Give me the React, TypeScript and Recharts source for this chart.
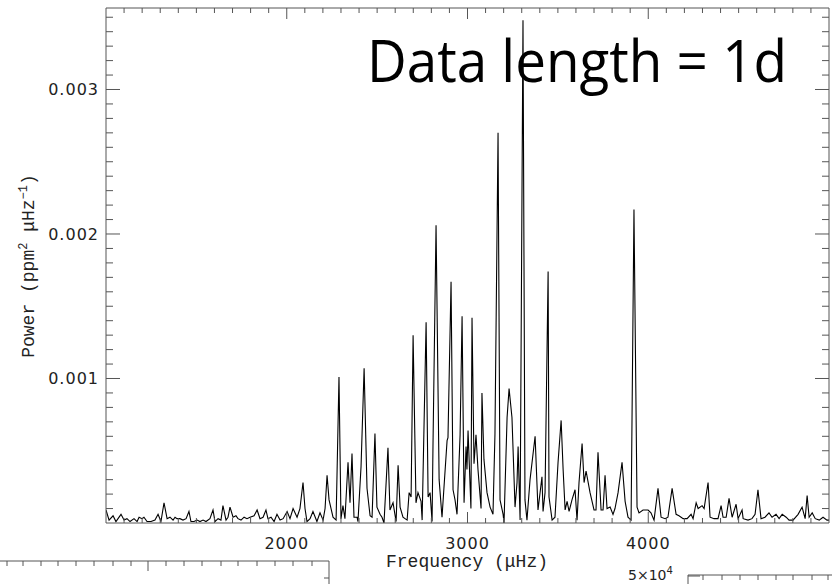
import React from "react";
import { LineChart, Line, XAxis, YAxis } from "recharts";

// frequency (μHz) of each vertex of the power spectrum
const freq = [
  1000, 1017, 1039, 1055, 1083, 1100, 1116, 1133, 1155, 1172, 1183, 1199, 1210, 1227, 1249, 1271, 1288, 1304, 1321, 1338,
  1354, 1371, 1382, 1393, 1409, 1426, 1443, 1459, 1470, 1487, 1504, 1520, 1537, 1553, 1575, 1592, 1603, 1620, 1636, 1647,
  1664, 1675, 1686, 1703, 1719, 1730, 1747, 1764, 1780, 1797, 1819, 1836, 1852, 1869, 1885, 1896, 1913, 1930, 1946, 1963,
  1980, 2002, 2018, 2035, 2057, 2073, 2090, 2101, 2112, 2129, 2145, 2167, 2184, 2201, 2212, 2223, 2234, 2256, 2273, 2289,
  2300, 2311, 2322, 2339, 2350, 2361, 2372, 2389, 2394, 2411, 2428, 2444, 2461, 2472, 2488, 2499, 2516, 2527, 2538, 2560,
  2571, 2588, 2605, 2616, 2627, 2643, 2666, 2677, 2688, 2699, 2715, 2726, 2743, 2749, 2771, 2782, 2793, 2804, 2809, 2826,
  2843, 2859, 2887, 2892, 2909, 2920, 2931, 2942, 2959, 2970, 2981, 2992, 2997, 3003, 3019, 3025, 3036, 3047, 3058, 3075,
  3080, 3091, 3108, 3125, 3141, 3152, 3169, 3180, 3197, 3202, 3219, 3230, 3246, 3263, 3274, 3280, 3291, 3307, 3318, 3329,
  3346, 3374, 3390, 3412, 3418, 3429, 3446, 3451, 3468, 3484, 3501, 3518, 3529, 3540, 3551, 3562, 3578, 3595, 3606, 3617,
  3634, 3645, 3656, 3678, 3700, 3711, 3722, 3739, 3750, 3761, 3772, 3789, 3805, 3816, 3833, 3855, 3872, 3888, 3905, 3921,
  3938, 3949, 3971, 3999, 4015, 4032, 4054, 4071, 4093, 4109, 4132, 4154, 4170, 4193, 4215, 4237, 4248, 4265, 4276, 4298,
  4309, 4331, 4342, 4364, 4386, 4403, 4414, 4431, 4447, 4464, 4486, 4497, 4519, 4525, 4552, 4574, 4591, 4607, 4624, 4646,
  4668, 4685, 4707, 4724, 4741, 4763, 4779, 4801, 4829, 4851, 4868, 4879, 4890, 4907, 4924, 4946, 4967, 4989, 5000,
];

// power in units of 1e-5 ppm² μHz⁻¹
const power = [
  9, 2, 5, 1, 6, 2, 3, 1, 3, 1, 4, 3, 4, 1, 1, 2, 6, 1, 14, 3,
  4, 2, 4, 3, 3, 2, 3, 8, 1, 1, 2, 1, 2, 1, 3, 9, 1, 3, 2, 12,
  2, 4, 11, 4, 5, 3, 2, 4, 3, 4, 5, 9, 3, 4, 9, 3, 4, 1, 6, 2,
  3, 8, 3, 10, 4, 10, 28, 10, 1, 3, 8, 1, 7, 2, 10, 33, 16, 4, 2, 101,
  3, 12, 3, 42, 14, 48, 4, 4, 1, 39, 107, 24, 5, 4, 62, 11, 6, 4, 0, 52,
  9, 14, 1, 40, 11, 4, 2, 21, 18, 130, 14, 21, 15, 2, 139, 18, 21, 1, 53, 206,
  30, 4, 57, 59, 167, 23, 16, 6, 61, 143, 14, 53, 37, 64, 10, 142, 41, 61, 37, 10,
  90, 44, 21, 11, 6, 62, 270, 16, 6, 0, 73, 93, 73, 11, 28, 53, 2, 348, 16, 2,
  30, 60, 9, 32, 8, 21, 174, 18, 2, 4, 42, 71, 37, 9, 15, 8, 16, 23, 2, 28,
  55, 28, 36, 21, 9, 9, 49, 9, 9, 33, 10, 11, 6, 10, 21, 42, 15, 4, 2, 217,
  11, 7, 9, 9, 7, 2, 24, 4, 3, 4, 24, 6, 5, 3, 3, 6, 3, 14, 10, 12,
  10, 28, 4, 3, 3, 12, 4, 4, 17, 4, 13, 3, 9, 3, 2, 3, 6, 23, 3, 4,
  7, 4, 6, 3, 6, 4, 2, 2, 6, 11, 3, 19, 4, 7, 3, 2, 4, 2, 2,
];

const xMajorTicks = [2000, 3000, 4000];
const yMajorTicks = [0.001, 0.002, 0.003];
const xDomain = [1000, 5000];
const yDomain = [0, 0.003564];

const data = freq.map((f, i) => ({ f, p: power[i] * 1e-5 }));

// minor ticks every 100 μHz and every 1e-4
const xTicks: number[] = [];
for (let i = 11; i <= 49; i++) xTicks.push(i * 100);
const yTicks: number[] = [];
for (let i = 1; i <= 35; i++) yTicks.push(Number((i * 0.0001).toFixed(4)));

const axisColor = "#555";
const labelFont = "'DejaVu Sans', sans-serif";
const titleFont = "'Liberation Mono', monospace";

const isMajorX = (v: number) => xMajorTicks.includes(v);
const isMajorY = (v: number) => yMajorTicks.some((m) => Math.abs(m - v) < 1e-9);

const xTick = (side: "top" | "bottom") => (props: any) => {
  const { x, y, payload } = props;
  const major = isMajorX(payload.value);
  const len = major ? 11 : 5;
  const dir = side === "bottom" ? -1 : 1;
  return (
    <g>
      <line x1={x} x2={x} y1={y} y2={y + dir * len} stroke={axisColor} strokeWidth={1} />
      {side === "bottom" && major && (
        <text x={x} y={y + 26} textAnchor="middle" fontFamily={labelFont} fontSize={16} letterSpacing={1} fill="#222">
          {payload.value}
        </text>
      )}
    </g>
  );
};

const yTick = (side: "left" | "right") => (props: any) => {
  const { x, y, payload } = props;
  const major = isMajorY(payload.value);
  const len = major ? 14 : 7;
  const dir = side === "left" ? 1 : -1;
  return (
    <g>
      <line x1={x} x2={x + dir * len} y1={y} y2={y} stroke={axisColor} strokeWidth={1} />
      {side === "left" && major && (
        <text x={x - 7} y={y + 6} textAnchor="end" fontFamily={labelFont} fontSize={16} letterSpacing={1} fill="#222">
          {payload.value.toFixed(3)}
        </text>
      )}
    </g>
  );
};

const sharedX = {
  dataKey: "f",
  type: "number" as const,
  domain: xDomain,
  ticks: xTicks,
  interval: 0,
  height: 1,
  tickSize: 0,
  tickMargin: 0,
  tickLine: false,
  allowDataOverflow: true,
  stroke: axisColor,
};

const sharedY = {
  type: "number" as const,
  domain: yDomain,
  ticks: yTicks,
  interval: 0,
  width: 1,
  tickSize: 0,
  tickMargin: 0,
  tickLine: false,
  allowDataOverflow: true,
  stroke: axisColor,
};

export default function App() {
  return (
    <div style={{ position: "absolute", left: 0, top: 0, width: 832, height: 584, background: "#fff", overflow: "hidden" }}>
      <LineChart width={832} height={584} data={data} margin={{ top: 7, right: 2, bottom: 60, left: 105 }}>
        <XAxis {...sharedX} tick={xTick("bottom")} />
        <XAxis {...sharedX} xAxisId="top" orientation="top" tick={xTick("top")} />
        <YAxis {...sharedY} tick={yTick("left")} />
        <YAxis {...sharedY} yAxisId="right" orientation="right" tick={yTick("right")} />
        <Line
          type="linear"
          dataKey="p"
          stroke="#000"
          strokeWidth={1.1}
          dot={false}
          isAnimationActive={false}
        />
      </LineChart>

      <svg width={832} height={584} style={{ position: "absolute", left: 0, top: 0, pointerEvents: "none" }}>
        <text x={367} y={82} fontFamily="'Open Sans', sans-serif" fontSize={59} fill="#000" textLength={420} lengthAdjust="spacingAndGlyphs">
          Data length = 1d
        </text>
        <text x={467} y={567} textAnchor="middle" fontFamily={titleFont} fontSize={18} fill="#222">
          Frequency (μHz)
        </text>
        <text transform="translate(34,266) rotate(-90)" textAnchor="middle" fontFamily={titleFont} fontSize={18} fill="#222">
          Power (ppm<tspan dy={-7} fontSize={12}>2</tspan>
          <tspan dy={7}> μHz</tspan>
          <tspan dy={-7} fontSize={12}>−1</tspan>
          <tspan dy={7}>)</tspan>
        </text>

        {/* neighbouring panels, cut off by the crop */}
        <g stroke={axisColor} strokeWidth={1} fill="none">
          <polyline points="0,561 329,561 329,590" />
          {[7, 23, 41, 58, 76, 94, 113, 131, 148, 166, 184, 202, 221, 238, 257, 275, 293, 312].map((x) => (
            <line key={x} x1={x} x2={x} y1={561} y2={x === 148 ? 571 : 566} />
          ))}
          <line x1={329} x2={324} y1={578} y2={578} />
          <polyline points="688,590 688,575 840,575" />
          {[703, 722, 740, 758, 776, 793, 812, 828].map((x) => (
            <line key={x} x1={x} x2={x} y1={575} y2={580} />
          ))}
          <line x1={688} x2={700} y1={576} y2={576} />
        </g>
        <text x={628} y={580} fontFamily={labelFont} fontSize={14} fill="#222">
          5×10<tspan dy={-6} fontSize={10}>4</tspan>
        </text>
      </svg>
    </div>
  );
}
